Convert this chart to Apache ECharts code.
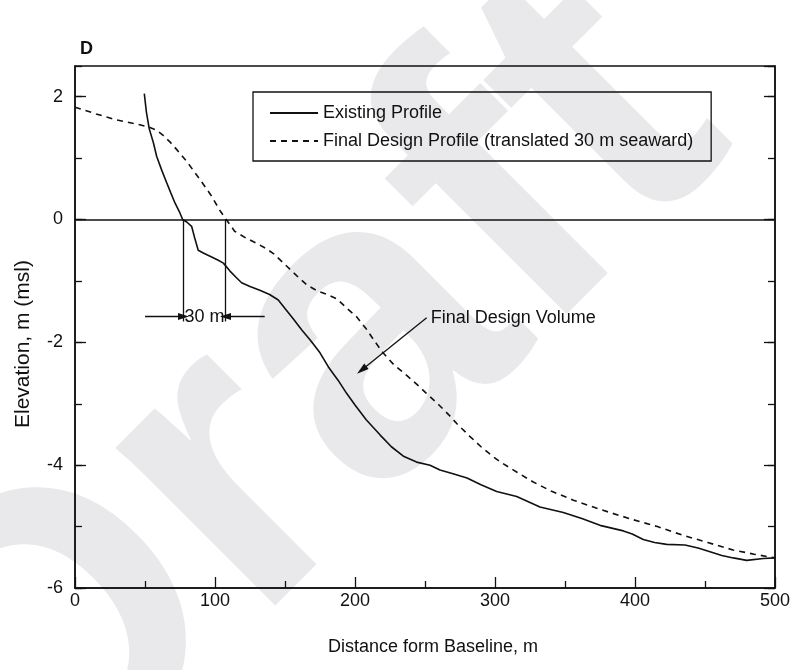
<!DOCTYPE html>
<html>
<head>
<meta charset="utf-8">
<script src="https://cdn.jsdelivr.net/npm/echarts@6/dist/echarts.min.js"></script>
<style>
  html, body { margin: 0; padding: 0; background: #ffffff; }
  #chart { width: 807px; height: 670px; }
</style>
</head>
<body>
<div id="chart"></div>
<script>
// Existing beach profile: distance from baseline (m) and elevation (m, msl)
const existingDistance = [49.5, 51, 53, 56, 58.3, 62, 65.5, 68.5, 71.4, 74.5, 76.9, 79.8, 83.3, 85.5, 88, 92, 97.6, 102, 106, 110.7, 115, 119, 125, 132, 139, 145.2,
  150, 156, 162, 168, 175, 181, 188, 194, 200, 208, 218, 226, 235, 244, 253.6, 260.7, 270, 280, 290, 301.2, 315.5, 332.1, 348.8, 362, 375,
  391.7, 398, 405.9, 414, 422.6, 435.7, 445, 453.6, 462, 470.2, 479.8, 491.7, 500];
const existingElevation = [2.05, 1.75, 1.48, 1.25, 1.03, 0.8, 0.6, 0.43, 0.27, 0.13, 0.0, -0.04, -0.11, -0.3, -0.5, -0.55, -0.61, -0.66, -0.71, -0.84, -0.94, -1.03, -1.09, -1.15, -1.22, -1.31,
  -1.45, -1.62, -1.8, -1.96, -2.17, -2.4, -2.62, -2.83, -3.02, -3.26, -3.51, -3.7, -3.86, -3.95, -4.0, -4.08, -4.14, -4.21, -4.32, -4.43, -4.51, -4.68, -4.77, -4.87, -4.98,
  -5.07, -5.12, -5.21, -5.26, -5.29, -5.3, -5.35, -5.41, -5.47, -5.51, -5.55, -5.52, -5.51];

// Final design profile, translated 30 m seaward
const designDistance = [0, 15, 30, 45, 52, 58, 63, 68, 73, 80, 89, 97, 104, 108, 114, 122, 130, 137, 142, 148, 154, 160, 166, 173, 180, 187, 194, 201,
  208, 214, 220, 228, 236, 244, 251, 260, 267, 273, 282, 290, 298, 304, 316, 327, 340, 356, 375, 399, 416, 434, 452, 470, 485, 500];
const designElevation = [1.83, 1.72, 1.62, 1.55, 1.51, 1.46, 1.37, 1.26, 1.13, 0.94, 0.66, 0.4, 0.13, 0.0, -0.19, -0.3, -0.39, -0.48, -0.56, -0.69, -0.82, -0.95, -1.07, -1.16, -1.22, -1.29, -1.44, -1.58,
  -1.78, -1.98, -2.17, -2.37, -2.52, -2.68, -2.83, -3.02, -3.18, -3.33, -3.53, -3.7, -3.85, -3.95, -4.12, -4.27, -4.42, -4.57, -4.72, -4.89, -5.0, -5.14, -5.26, -5.38, -5.45, -5.51];

// Axis ticks
const xTicks = [0, 100, 200, 300, 400, 500];
const yTicks = [-6, -4, -2, 0, 2];
const yTop = 2.5;

// Series names
const seriesNames = ['Existing Profile', 'Final Design Profile (translated 30 m seaward)'];

// Dimension marks for the 30 m shift
const shiftLinesX = [77.5, 107.5];
const shiftLineBottom = -1.66;
const shiftArrowY = -1.58;
const shiftArrowTails = [50, 135.5];
const shiftText = '30 m';

// Pointer to the design volume
const volumeArrowStart = [251.2, -1.6];
const volumeArrowEnd = [204.8, -2.45];
const volumeText = 'Final Design Volume';

const FONT = '"Liberation Sans", Arial, Helvetica, sans-serif';
const INK = '#111111';

function zip(xs, ys) { return xs.map((x, i) => [x, ys[i]]); }

const chart = echarts.init(document.getElementById('chart'), null, { renderer: 'canvas' });

const minorAxisBase = {
  type: 'value', min: yTicks[0], max: yTop, interval: 1,
  axisLine: { show: false },
  axisTick: { show: true, inside: true, length: 7, lineStyle: { color: INK, width: 1.3 } },
  axisLabel: { show: false },
  splitLine: { show: false }
};
const majorAxisBase = {
  type: 'value', min: yTicks[0], max: yTop, interval: yTicks[1] - yTicks[0],
  axisLine: { show: true, onZero: false, lineStyle: { color: INK, width: 1.5 } },
  axisTick: { show: true, inside: true, length: 11, lineStyle: { color: INK, width: 1.3 } },
  splitLine: { show: false }
};

const shiftMarks = [];
shiftLinesX.forEach(function (x) {
  shiftMarks.push([{ coord: [x, 0], symbol: 'none' }, { coord: [x, shiftLineBottom], symbol: 'none' }]);
});
shiftMarks.push([{ coord: [shiftArrowTails[0], shiftArrowY], symbol: 'none' }, { coord: [shiftLinesX[0], shiftArrowY], symbol: 'triangle', symbolSize: [7, 11] }]);
shiftMarks.push([{ coord: [shiftArrowTails[1], shiftArrowY], symbol: 'none' }, { coord: [shiftLinesX[1], shiftArrowY], symbol: 'triangle', symbolSize: [7, 11] }]);
shiftMarks.push([{ coord: volumeArrowStart, symbol: 'none' }, { coord: volumeArrowEnd, symbol: 'triangle', symbolSize: [7, 12] }]);

chart.setOption({
  animation: false,
  backgroundColor: '#ffffff',
  grid: { left: 75, right: 32, top: 66, bottom: 82, show: true, borderColor: INK, borderWidth: 1.5, backgroundColor: 'transparent' },
  graphic: [
    {
      // faint "Draft" watermark behind everything
      type: 'text', x: 305, y: 410, rotation: Math.PI / 4, z: -10, silent: true,
      style: { text: 'Draft', font: 'bold 425px ' + FONT, fill: '#e9e9eb', align: 'center', verticalAlign: 'middle' }
    },
    { type: 'text', left: 80, top: 40, style: { text: 'D', font: 'bold 18px ' + FONT, fill: INK } },
    {
      type: 'text', x: 433, y: 647,
      style: { text: 'Distance form Baseline, m', font: '18px ' + FONT, fill: INK, align: 'center', verticalAlign: 'middle' }
    },
    {
      type: 'text', x: 23, y: 344, rotation: Math.PI / 2,
      style: { text: 'Elevation, m (msl)', font: '21px ' + FONT, fill: INK, align: 'center', verticalAlign: 'middle' }
    }
  ],
  legend: {
    data: seriesNames, orient: 'vertical', left: 253, top: 92,
    itemWidth: 48, itemHeight: 14, itemGap: 10,
    padding: [12, 18, 11, 16],
    borderColor: INK, borderWidth: 1.3, borderRadius: 0,
    itemStyle: { color: 'rgba(0,0,0,0)', borderColor: 'rgba(0,0,0,0)', borderWidth: 0 },
    textStyle: { fontFamily: FONT, fontSize: 18, color: INK }
  },
  xAxis: {
    type: 'value', min: xTicks[0], max: xTicks[xTicks.length - 1], interval: xTicks[1] - xTicks[0],
    axisLine: { show: true, onZero: false, lineStyle: { color: INK, width: 1.5 } },
    axisTick: { show: true, inside: true, length: 11, lineStyle: { color: INK, width: 1.3 } },
    minorTick: { show: true, splitNumber: 2, length: 7, lineStyle: { color: INK, width: 1.3 } },
    axisLabel: { fontFamily: FONT, fontSize: 18, color: INK, margin: 4 },
    splitLine: { show: false }
  },
  yAxis: [
    Object.assign({}, majorAxisBase, { position: 'left', axisLabel: { fontFamily: FONT, fontSize: 18, color: INK, margin: 12, showMaxLabel: false } }),
    Object.assign({}, minorAxisBase, { position: 'left' }),
    Object.assign({}, majorAxisBase, { position: 'right', axisLabel: { show: false } }),
    Object.assign({}, minorAxisBase, { position: 'right' })
  ],
  series: [
    {
      name: seriesNames[0], type: 'line', data: zip(existingDistance, existingElevation),
      symbol: 'none', smooth: false, z: 3,
      lineStyle: { color: INK, width: 1.6, type: 'solid' },
      itemStyle: { color: INK },
      markLine: {
        silent: true, symbol: 'none', label: { show: false }, animation: false,
        lineStyle: { color: INK, width: 1.5, type: 'solid' },
        data: [{ yAxis: 0 }]
      }
    },
    {
      name: seriesNames[1], type: 'line', data: zip(designDistance, designElevation),
      symbol: 'none', smooth: false, z: 3,
      lineStyle: { color: INK, width: 1.6, type: [6, 5] },
      itemStyle: { color: INK }
    },
    {
      name: 'annotations', type: 'line', data: [], symbol: 'none',
      markLine: {
        silent: true, label: { show: false }, animation: false,
        lineStyle: { color: INK, width: 1.3, type: 'solid' },
        itemStyle: { color: INK },
        data: shiftMarks
      },
      markPoint: {
        silent: true, animation: false, symbol: 'circle', symbolSize: 0,
        data: [
          {
            coord: [(shiftLinesX[0] + shiftLinesX[1]) / 2, shiftArrowY],
            label: { show: true, position: 'inside', formatter: shiftText, fontFamily: FONT, fontSize: 18, color: INK }
          },
          {
            coord: volumeArrowStart,
            label: { show: true, position: 'right', distance: 4, formatter: volumeText, fontFamily: FONT, fontSize: 18, color: INK }
          }
        ]
      }
    }
  ]
});
</script>
</body>
</html>
